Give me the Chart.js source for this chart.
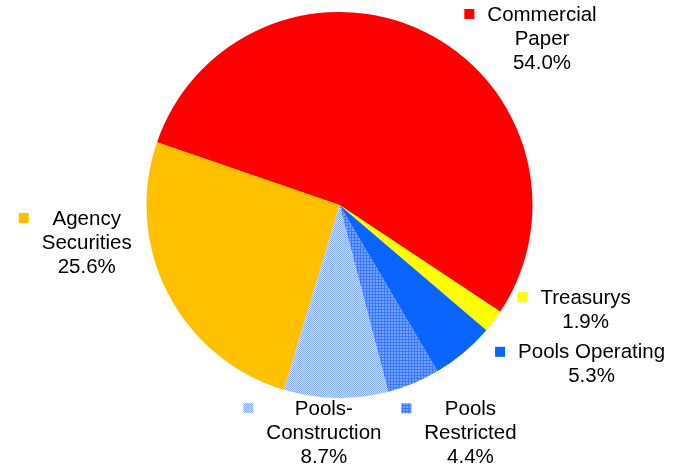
<!DOCTYPE html>
<html>
<head>
<meta charset="utf-8">
<script src="https://cdn.jsdelivr.net/npm/chart.js@4"></script>
<style>
  html, body { margin: 0; padding: 0; background: #fff; }
  #wrap { width: 679px; height: 468px; position: relative; }
</style>
</head>
<body>
<div id="wrap"><canvas id="pie"></canvas></div>
<script>
// data
const categories = ['Commercial Paper', 'Treasurys', 'Pools Operating', 'Pools Restricted', 'Pools-Construction', 'Agency Securities'];
const shares = [54.0, 1.9, 5.3, 4.4, 8.7, 25.6];
const labelLines = [['Commercial', 'Paper'], ['Treasurys'], ['Pools Operating'], ['Pools', 'Restricted'], ['Pools-', 'Construction'], ['Agency', 'Securities']];

// label placement relative to the slice's outer edge at its mid angle
const labelOffsets = [[117, -17], [92, -23], [128, 0], [57, 26], [-12, 11], [-81, -74]];

function makePattern(size, fn) {
    const c = document.createElement('canvas');
    c.width = size; c.height = size;
    const g = c.getContext('2d');
    for (let y = 0; y < size; y++) {
        for (let x = 0; x < size; x++) {
            g.fillStyle = fn(x, y);
            g.fillRect(x, y, 1, 1);
        }
    }
    return g.createPattern(c, 'repeat');
}

const ctx = document.getElementById('pie').getContext('2d');
const restrictedFill = makePattern(3, (x, y) => (x === 0 || y === 0) ? '#3a78ff' : '#74a2ff');
const constructionFill = makePattern(2, (x, y) => ((x + y) % 2 === 0) ? '#86acff' : '#d2e0ff');
const colors = ['#ff0000', '#ffff00', '#0a64ff', restrictedFill, constructionFill, '#ffc000'];

const outsideLabels = {
    id: 'outsideLabels',
    afterDatasetsDraw(chart) {
        const c = chart.ctx;
        const meta = chart.getDatasetMeta(0);
        c.save();
        c.font = '20.5px "Liberation Sans", Arial, sans-serif';
        c.textAlign = 'center';
        c.textBaseline = 'middle';
        meta.data.forEach((arc, i) => {
            const mid = (arc.startAngle + arc.endAngle) / 2;
            const ex = arc.x + Math.cos(mid) * arc.outerRadius;
            const ey = arc.y + Math.sin(mid) * arc.outerRadius;
            const x = ex + labelOffsets[i][0];
            const y = ey + labelOffsets[i][1];
            const lines = labelLines[i].concat([shares[i].toFixed(1) + '%']);
            const lh = 24;
            let maxW = 0;
            lines.forEach((t, k) => {
                c.fillStyle = '#000';
                c.fillText(t, x, y + k * lh);
                maxW = Math.max(maxW, c.measureText(t).width);
            });
            c.fillStyle = colors[i];
            c.fillRect(x - maxW / 2 - 23, y - 6, 10, 10);
        });
        c.restore();
    }
};

new Chart(ctx, {
    type: 'pie',
    data: {
        labels: categories,
        datasets: [{
            data: shares,
            backgroundColor: colors,
            borderWidth: 0
        }]
    },
    options: {
        responsive: true,
        maintainAspectRatio: false,
        animation: false,
        rotation: -71,
        layout: { padding: { top: 12, bottom: 70, left: 0, right: 0 } },
        plugins: {
            legend: { display: false },
            tooltip: { enabled: false }
        }
    },
    plugins: [outsideLabels]
});
</script>
</body>
</html>
